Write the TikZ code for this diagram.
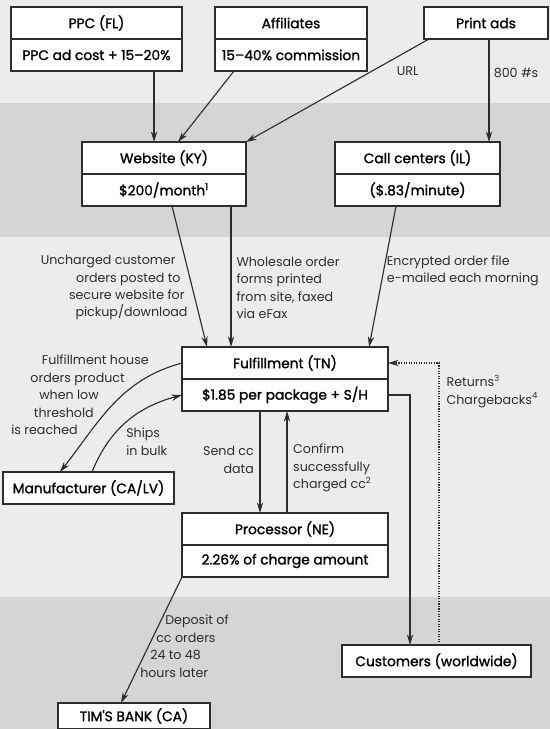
\documentclass[tikz,border=0pt]{standalone}
\usepackage{fontspec}
\setmainfont{Poppins}
\newfontfamily\boxfont{Poppins}[FakeBold=1.4]
\usepackage{tikz}
\usetikzlibrary{arrows.meta,positioning}
\definecolor{bandlight}{RGB}{236,236,236}
\definecolor{banddark}{RGB}{213,213,213}
\definecolor{ink}{RGB}{45,45,45}
\tikzset{>={Stealth[length=7.5pt,width=4.5pt]}}
\tikzstyle{box} = [draw=ink, fill=white, line width=1pt, outer sep=0pt, inner sep=0pt, minimum height=0.8cm, text=black, font=\boxfont\fontsize{9.8}{11}\selectfont]
\tikzstyle{note} = [inner sep=0pt, text=ink, font=\fontsize{9}{12.4}\selectfont]
\tikzstyle{arrow} = [->, draw=ink, line width=0.8pt]

\begin{document}
\begin{tikzpicture}[x=0.025cm, y=-0.025cm]
% page size and the grey bands
\useasboundingbox (0,0) rectangle (550,729);
\fill[bandlight] (0,0) rectangle (550,103);
\fill[banddark] (0,103) rectangle (550,237);
\fill[bandlight] (0,237) rectangle (550,597);
\fill[banddark] (0,597) rectangle (550,729);

% top row: where the traffic comes from
\node[box, minimum width=4.275cm, anchor=north west] (ppc) at (11,7) {PPC (FL)};
\node[box, minimum width=4.275cm, below=0pt of ppc] (ppccost) {PPC ad cost + 15–20\%};
\node[box, minimum width=3.8cm, anchor=north west] (aff) at (215,7) {Affiliates};
\node[box, minimum width=3.8cm, below=0pt of aff] (affcost) {15–40\% commission};
\node[box, minimum width=3.1cm, anchor=north west] (print) at (424,7) {Print ads};

% second row: order intake
\node[box, minimum width=4.1cm, anchor=north west] (web) at (82,142) {Website (KY)};
\node[box, minimum width=4.1cm, below=0pt of web] (webcost) {\$200/month\textsuperscript{1}};
\node[box, minimum width=4.125cm, anchor=north west] (calls) at (335,142) {Call centers (IL)};
\node[box, minimum width=4.125cm, below=0pt of calls] (callscost) {(\$.83/minute)};

% middle: fulfillment, manufacturer, processor
\node[box, minimum width=5.15cm, anchor=north west] (ful) at (182,347) {Fulfillment (TN)};
\node[box, minimum width=5.15cm, below=0pt of ful] (fulcost) {\$1.85 per package + S/H};
\node[box, minimum width=4.275cm, anchor=north west] (manu) at (3,472) {Manufacturer (CA/LV)};
\node[box, minimum width=5.15cm, anchor=north west] (proc) at (182,513) {Processor (NE)};
\node[box, minimum width=5.15cm, below=0pt of proc] (proccost) {2.26\% of charge amount};

% bottom: customers and the bank
\node[box, minimum width=4.725cm, anchor=north west] (cust) at (342,645) {Customers (worldwide)};
\node[box, minimum width=3.8cm, minimum height=0.65cm, anchor=north west] (bank) at (58,703) {TIM'S BANK (CA)};

% traffic into website and call centers
\draw[arrow] ([xshift=-0.7cm]ppccost.south east) -- ([xshift=-0.7cm]ppccost.south east |- web.north);
\draw[arrow] ([xshift=0.475cm]affcost.south west) -- ([xshift=2.4cm]web.north west);
\draw[arrow] ([xshift=0.125cm]print.south west) -- node[note, pos=0.31, right=0.6cm] (lblurl) {URL} (web.north east);
\draw[arrow] ([xshift=1.625cm]print.south west) -- node[note, pos=0.33, right=3pt] (lblphone) {800 \#s} ([xshift=1.625cm]print.south west |- calls.north);

% orders passed on to fulfillment
\draw[arrow] ([xshift=2.25cm]webcost.south west) -- node[note, pos=0.58, left=3pt, align=right] (lblposted)
  {Uncharged customer\hspace*{0.3cm}\null\\orders posted to\hspace*{0.175cm}\null\\secure website for\hspace*{0.075cm}\null\\pickup/download} ([xshift=0.625cm]ful.north west);
\draw[arrow] ([xshift=3.725cm]webcost.south west) -- node[note, pos=0.58, right=3.5pt, align=left] (lblfaxed)
  {Wholesale order\\forms printed\\from site, faxed\\via eFax} ([xshift=3.725cm]webcost.south west |- ful.north);
\draw[arrow] ([xshift=1.525cm]callscost.south west) -- node[note, pos=0.46, right=2pt, align=left] (lblmailed)
  {Encrypted order file\\e-mailed each morning} ([xshift=-0.475cm]ful.north east);

% product loop with the manufacturer
\draw[arrow] (ful.west) to[out=195,in=52] ([xshift=1.425cm]manu.north west);
\node[note, anchor=north east, align=right] (lblreorder) at (149,355)
  {Fulfillment house\\orders product\hspace*{0.6cm}\null\\when low\hspace*{1.25cm}\null\\threshold\hspace*{1.375cm}\null\\is reached\hspace*{1.775cm}\null};
\draw[arrow] ([xshift=2.225cm]manu.north west) to[out=68,in=195] (fulcost.west);
\node[note, anchor=north west, align=left] (lblbulk) at (126,428) {Ships\\in bulk};

% card data to and from the processor
\draw[arrow] ([xshift=1.95cm]fulcost.south west) -- node[note, pos=0.48, left=4pt, align=right] (lblsend)
  {Send cc\\data} ([xshift=1.95cm]fulcost.south west |- proc.north);
\draw[arrow] ([xshift=2.625cm]proc.north west) -- node[note, pos=0.44, right=4pt, align=left] (lblconfirm)
  {Confirm\\successfully\\charged cc\textsuperscript{2}} ([xshift=2.625cm]proc.north west |- fulcost.south);

% shipping out, returns back
\draw[arrow] (fulcost.east) -| ([xshift=1.7cm]cust.north west);
\draw[arrow, densely dotted] ([xshift=2.425cm]cust.north west) |- node[note, pos=0.45, right=5pt, align=left] (lblreturns)
  {Returns\textsuperscript{3}\\Chargebacks\textsuperscript{4}} (ful.east);

% money to the bank
\draw[arrow] (proccost.south west) -- ([xshift=1.575cm]bank.north west);
\node[note, anchor=north west, align=left] (lbldeposit) at (140,615)
  {\hspace*{0.625cm}Deposit of\\\hspace*{0.4cm}cc orders\\\hspace*{0.25cm}24 to 48\\hours later};
\end{tikzpicture}
\end{document}
